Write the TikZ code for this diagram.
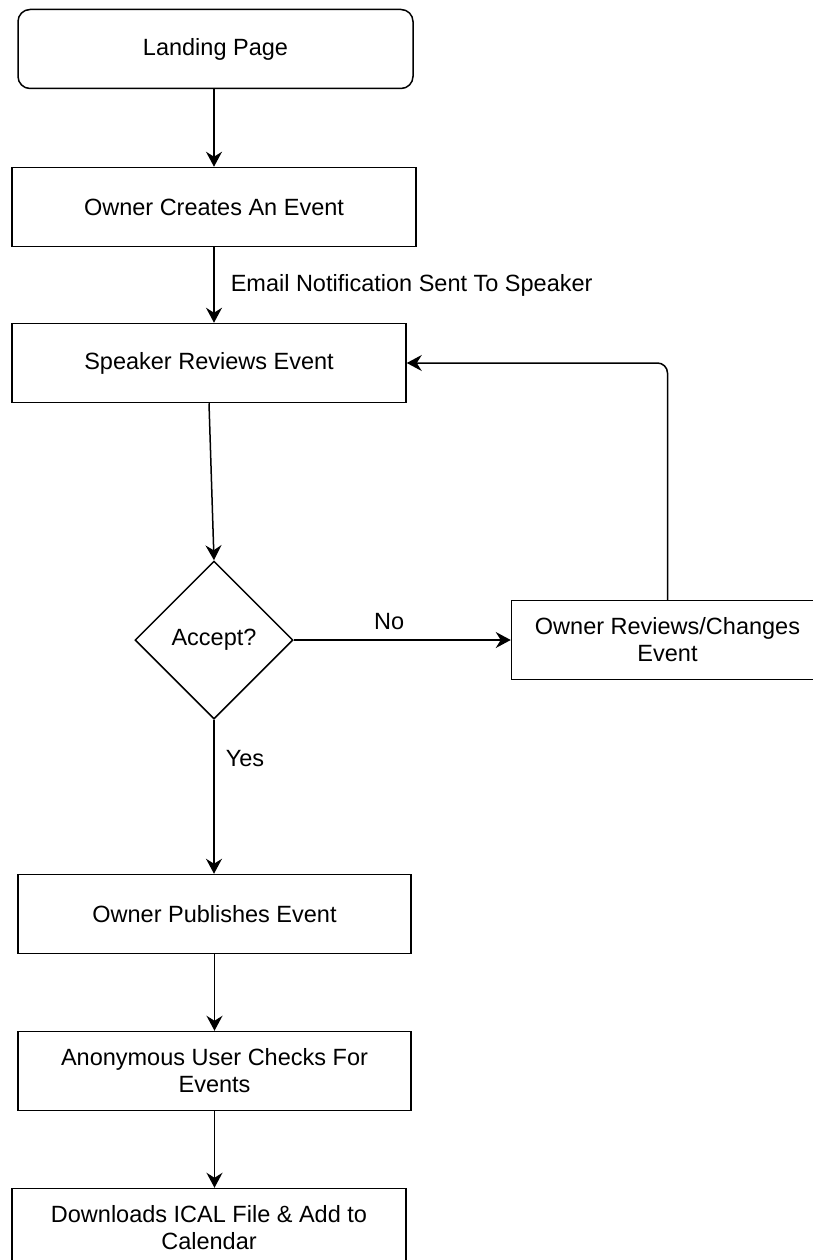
\documentclass[tikz,border=0pt]{standalone}
\usepackage{fontspec}
\setmainfont{Liberation Sans}
\usetikzlibrary{arrows.meta, positioning, shapes.geometric}

\begin{document}
\begin{tikzpicture}[x=1pt, y=1pt, line width=1.5pt,
  font=\fontsize{23.5}{27}\selectfont,
  box/.style={draw, align=center, inner sep=4pt, minimum width=394pt, minimum height=79pt},
  rbox/.style={box, rounded corners=12pt},
  dbox/.style={draw, diamond, aspect=1, inner sep=0pt, minimum width=158pt, minimum height=158pt},
  lbl/.style={inner sep=0pt},
  arr/.style={-{Stealth[length=15pt, width=16pt, inset=5pt]}}]
\useasboundingbox (0,0) rectangle (813,-1260);
% main column
\node[rbox, minimum width=395pt] (landing) at (215.5,-49) {Landing Page};
\node[box, minimum width=404pt, below=77.5pt of landing.south, anchor=north, xshift=-1.5pt] (create) {Owner Creates An Event};
\node[box, below=75.5pt of create.south, anchor=north, xshift=-5pt] (speaker) {Speaker Reviews Event};
\node[dbox, below=157pt of speaker.south, anchor=north, xshift=5pt] (accept) {Accept?};
\node[box, minimum width=312pt, right=217pt of accept.east, anchor=west] (ownrev) {Owner Reviews/Changes\\ Event};
\node[box, minimum width=393pt, below=154pt of accept.south, anchor=north, xshift=0.5pt] (publish) {Owner Publishes Event};
\node[box, minimum width=393pt, below=76.5pt of publish.south, anchor=north] (anon) {Anonymous User Checks For\\ Events};
\node[box, below=76.5pt of anon.south, anchor=north, xshift=-5.5pt] (download) {Downloads ICAL File \& Add to\\ Calendar};
% connectors
\draw[arr] (landing.south -| create.north) -- (create.north);
\draw[arr] (create.south) -- node[lbl, right, xshift=16pt] {Email Notification Sent To Speaker} (create.south |- speaker.north);
\draw[arr] (speaker.south) -- (accept.north);
\draw[arr] (accept.east) -- node[lbl, above, pos=0.44, yshift=10pt] {No} (ownrev.west);
\draw[arr] (accept.south) -- node[lbl, right, pos=0.25, xshift=11pt] {Yes} (accept.south |- publish.north);
\draw[arr, rounded corners=10pt] (ownrev.north) |- (speaker.east);
\draw[arr] (publish.south) -- (anon.north);
\draw[arr] (anon.south) -- (anon.south |- download.north);
\end{tikzpicture}
\end{document}
